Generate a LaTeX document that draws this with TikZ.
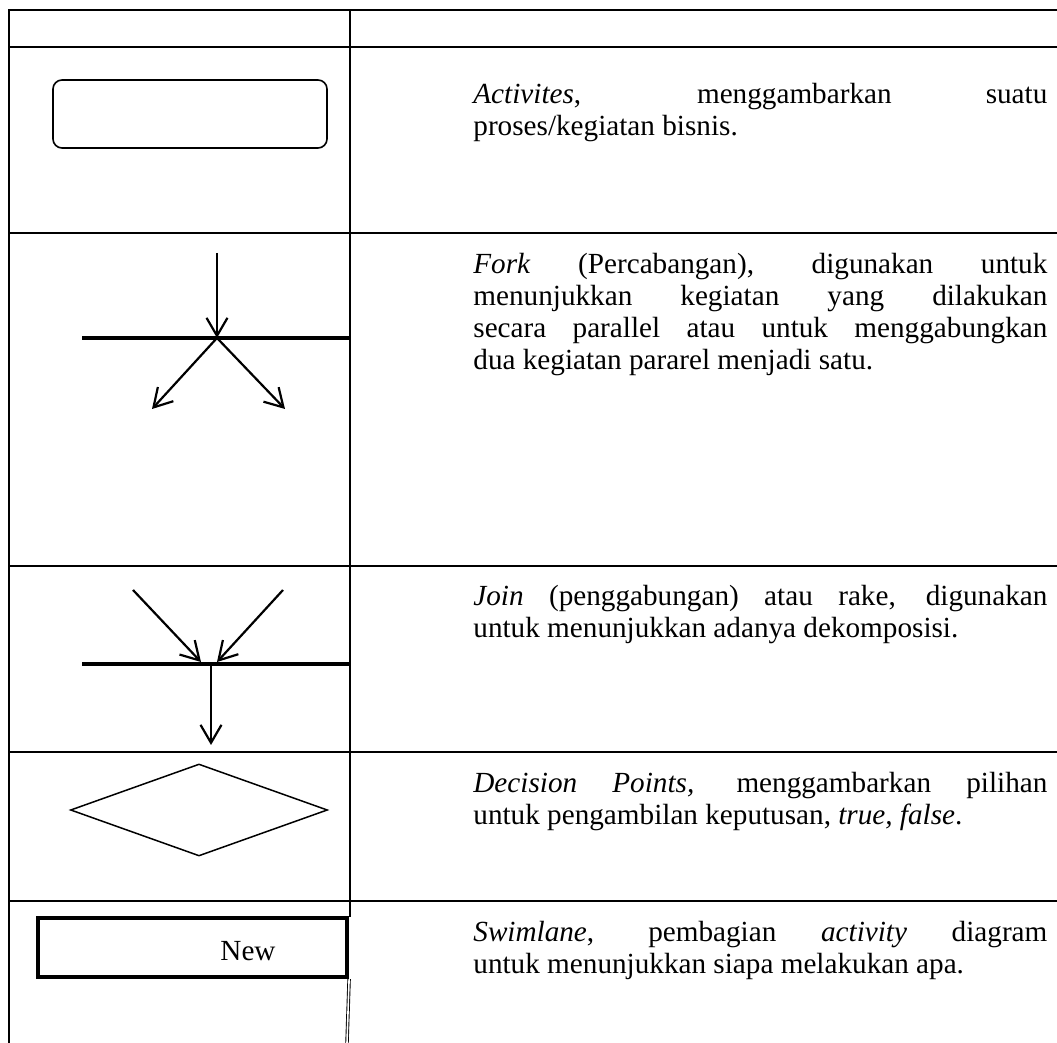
\documentclass[tikz,border=0pt]{standalone}
\usepackage{fontspec}
\setmainfont{Liberation Serif}
\usetikzlibrary{arrows.meta,shapes.geometric}

\begin{document}
\begin{tikzpicture}[x=0.5pt,y=-0.5pt,
  tableline/.style={line width=1.1pt},
  bar/.style={line width=2pt},
  flow/.style={line width=1.1pt,-{Straight Barb[length=9pt,width=10.5pt,line width=1.1pt]}},
  activity/.style={draw,line width=0.8pt,rounded corners=4.5pt,minimum width=137pt,minimum height=34pt,inner sep=0pt},
  decision/.style={draw,diamond,line width=0.75pt,minimum width=128.5pt,minimum height=46pt,inner sep=0pt},
  lane/.style={draw,line width=2.1pt,minimum width=154.5pt,minimum height=29.5pt,inner sep=0pt},
  laneline/.style={double,double distance=0.8pt,line width=0.45pt},
  desc/.style={anchor=north west,inner sep=0pt,text width=287pt,align=justify,font=\fontsize{14.6}{16}\selectfont}]
\useasboundingbox (0,0) rectangle (1057,1043);
\draw[tableline] (9,1043) -- (9,10) -- (1057,10);
\foreach \y in {47,233,566,752,901}
  \draw[tableline] (9,\y) -- (1057,\y);
\draw[tableline] (350,10) -- (350,917);

\node[activity] (act) at (190,114) {};
\node[desc] (actdesc) at (473,80.6) {\strut\textit{Activites}, menggambarkan suatu\linebreak proses/kegiatan bisnis.};

\coordinate (fk) at (217,338);
\coordinate (fkin) at (217,253);
\coordinate (fkl) at (152,409);
\coordinate (fkr) at (285,409);
\coordinate (fkbl) at (82,338);
\coordinate (fkbr) at (351,338);
\draw[bar] (fkbl) -- (fkbr);
\draw[flow] (fkin) -- (fk);
\draw[flow] (fk) -- (fkl);
\draw[flow] (fk) -- (fkr);
\node[desc] (fkdesc) at (473,250.6) {\strut\textit{Fork} (Percabangan), digunakan untuk\linebreak menunjukkan kegiatan yang dilakukan\linebreak secara parallel atau untuk menggabungkan\linebreak dua kegiatan pararel menjadi satu.};

\coordinate (jnl) at (133,590);
\coordinate (jnr) at (283,590);
\coordinate (jnlend) at (201,662);
\coordinate (jnrend) at (217,662);
\coordinate (jnout) at (211,665);
\coordinate (jnoutend) at (211,745);
\coordinate (jnbl) at (82,664);
\coordinate (jnbr) at (351,664);
\draw[bar] (jnbl) -- (jnbr);
\draw[flow] (jnl) -- (jnlend);
\draw[flow] (jnr) -- (jnrend);
\draw[flow] (jnout) -- (jnoutend);
\node[desc] (jndesc) at (473,582.6) {\strut\textit{Join} (penggabungan) atau rake, digunakan\linebreak untuk menunjukkan adanya dekomposisi.};

\node[decision] (dec) at (199,810) {};
\node[desc] (decdesc) at (473,769.6) {\strut\textit{Decision Points,} menggambarkan pilihan\linebreak untuk pengambilan keputusan, \textit{true, false}.};

\node[lane] (lane) at (192.5,947.5) {};
\node[anchor=base,inner sep=0pt,font=\fontsize{14.6}{16}\selectfont] (new) at (248,960) {New};
\coordinate (laneend) at (347,1043);
\draw[laneline] (lane.south east) -- (laneend);
\node[desc] (lanedesc) at (473,918.6) {\strut\textit{Swimlane}, pembagian \textit{activity} diagram\linebreak untuk menunjukkan siapa melakukan apa.};
\end{tikzpicture}
\end{document}
